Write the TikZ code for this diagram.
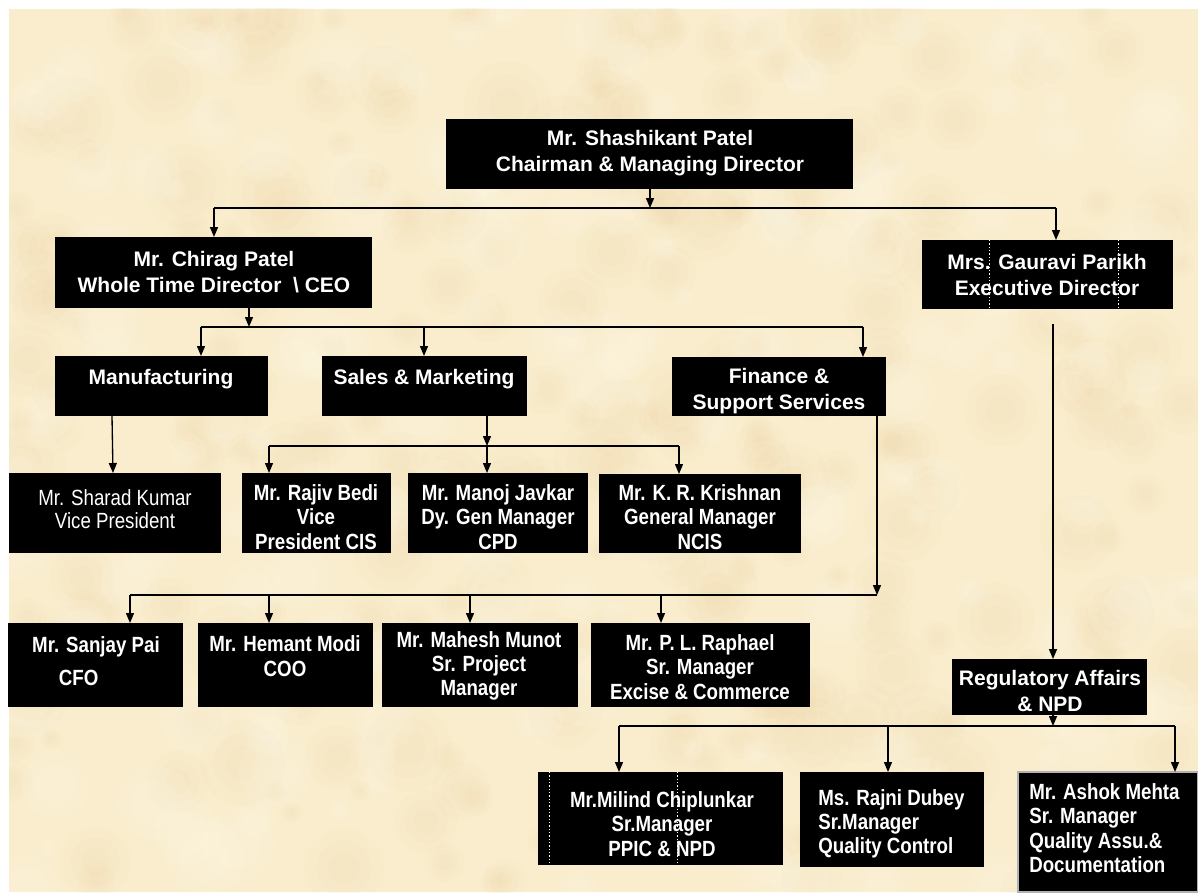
\documentclass[tikz,border=0pt]{standalone}
\usepackage{fontspec}
\setmainfont{Liberation Sans}
\newfontfamily\cndfamily[FakeStretch=0.85]{Liberation Sans}
\usetikzlibrary{arrows.meta,fit}

\definecolor{parchment}{RGB}{250,237,205}
\definecolor{parchdark}{RGB}{232,208,158}
\definecolor{parchlight}{RGB}{255,250,235}

\newcommand\hdfont{\fontsize{15.75pt}{19.5pt}\selectfont\bfseries}
\newcommand\sbfont{\cndfamily\fontsize{16.5pt}{18.2pt}\selectfont\bfseries}
\newcommand\srfont{\cndfamily\fontsize{16.5pt}{17pt}\selectfont}

\tikzset{
  box/.style={fill=black, draw=none, inner sep=0pt, outer sep=0pt},
  ln/.style={line width=1pt, draw=black},
  arr/.style={ln, -{Triangle[length=7.5pt,width=6pt]}},
  hd/.style={text=white, align=center, font=\hdfont, inner sep=0pt},
  sb/.style={text=white, align=center, font=\sbfont, inner sep=0pt},
  sr/.style={text=white, align=center, font=\srfont, inner sep=0pt},
  seam/.style={draw=white, line width=0.4pt, dash pattern=on 1pt off 1.5pt},
}

\begin{document}
\begin{tikzpicture}[x=0.75pt,y=-0.75pt]
\useasboundingbox (0,0) rectangle (1198,892);

% paper with soft mottling
\fill[white] (0,0) rectangle (1198,892);
\fill[parchment] (9,9) rectangle (1198,892);
\begin{scope}
  \clip (9,9) rectangle (1198,892);
  \pgfmathsetseed{11}
  \foreach \i in {1,...,260}{
    \pgfmathsetmacro\px{9+rnd*1189}
    \pgfmathsetmacro\py{9+rnd*883}
    \pgfmathsetmacro\pr{10+rnd*34}
    \fill[parchdark, opacity=0.06] (\px,\py) circle[radius=\pr];
    \fill[parchdark, opacity=0.06] (\px,\py) circle[radius=0.7*\pr];
    \fill[parchdark, opacity=0.06] (\px,\py) circle[radius=0.4*\pr];
  }
  \foreach \i in {1,...,200}{
    \pgfmathsetmacro\px{9+rnd*1189}
    \pgfmathsetmacro\py{9+rnd*883}
    \pgfmathsetmacro\pr{10+rnd*30}
    \fill[parchlight, opacity=0.12] (\px,\py) circle[radius=\pr];
    \fill[parchlight, opacity=0.12] (\px,\py) circle[radius=0.65*\pr];
  }
\end{scope}

% boxes
\node[box, fit={(446,119) (853,189)}] (chair) {};
\node[box, fit={(55,237) (372,308)}] (chirag) {};
\node[box, fit={(922,240) (1173,309)}] (gauravi) {};
\node[box, fit={(55,356) (268,416)}] (mfg) {};
\node[box, fit={(322,356) (527,416)}] (sales) {};
\node[box, fit={(672,357) (886,416)}] (fin) {};
\node[box, fit={(9,473) (221,553)}] (sharad) {};
\node[box, fit={(242,473) (391,553)}] (rajiv) {};
\node[box, fit={(408,473) (588,553)}] (manoj) {};
\node[box, fit={(599,474) (801,553)}] (krishnan) {};
\node[box, fit={(8,623) (183,707)}] (sanjay) {};
\node[box, fit={(198,623) (373,707)}] (hemant) {};
\node[box, fit={(382,623) (578,707)}] (mahesh) {};
\node[box, fit={(591,623) (810,707)}] (raphael) {};
\node[box, fit={(952,659) (1147,715)}] (ra) {};
\node[box, fit={(538,772) (783,865)}] (milind) {};
\node[box, fit={(800,772) (984,867)}] (rajni) {};
\node[box, draw=gray!60, line width=1pt, fit={(1018,772) (1198,892)}] (ashok) {};

% faint seams inside two boxes
\draw[seam] (989,240) -- (989,309);
\draw[seam] (1118,240) -- (1118,309);
\draw[seam] (549,772) -- (549,865);
\draw[seam] (677,772) -- (677,865);

% labels
\node[hd] (chair-t) at (650,153) {Mr. Shashikant Patel\\Chairman \& Managing Director};
\node[hd] (chirag-t) at (214,272) {Mr. Chirag Patel\\Whole Time Director\ \ \textbackslash\ CEO};
\node[hd] (gauravi-t) at (1047,275) {Mrs. Gauravi Parikh\\Executive Director};
\node[hd] (mfg-t) at (161,379) {Manufacturing};
\node[hd] (sales-t) at (424,379) {Sales \& Marketing};
\node[hd] (fin-t) at (779,391) {Finance \&\\Support Services};
\node[hd] (ra-t) at (1050,691) {Regulatory Affairs\\\& NPD};

\node[sr] (sharad-t) at (115,509) {Mr. Sharad Kumar\\Vice President};
\node[sb] (rajiv-t) at (316,517) {Mr. Rajiv Bedi\\Vice\\President CIS};
\node[sb] (manoj-t) at (498,517) {Mr. Manoj Javkar\\Dy. Gen Manager\\CPD};
\node[sb] (krishnan-t) at (700,517) {Mr. K. R. Krishnan\\General Manager\\NCIS};

\node[sb, align=left] (sanjay-t) at (96,661) {Mr. Sanjay Pai\\[7pt]\hspace*{20pt}CFO};
\node[sb] (hemant-t) at (285,656) {Mr. Hemant Modi\\COO};
\node[sb] (mahesh-t) at (479,666) {Mr. Mahesh Munot\\Sr. Project\\Manager};
\node[sb] (raphael-t) at (700,667) {Mr. P. L. Raphael\\Sr. Manager\\Excise \& Commerce};

\node[sb] (milind-t) at (662,824) {Mr.Milind Chiplunkar\\Sr.Manager\\PPIC \& NPD};
\node[sb, align=left, anchor=west] (rajni-t) at (818,824) {Ms. Rajni Dubey\\Sr.Manager\\Quality Control};
\node[sb, align=left, anchor=west] (ashok-t) at (1029,828) {Mr. Ashok Mehta\\Sr. Manager\\Quality Assu.\&\\Documentation};

% chairman level
\coordinate (b0) at (650,208);
\coordinate (b0l) at (214,208);
\coordinate (b0r) at (1056,208);
\draw[arr] (b0 |- chair.south) -- (b0);
\draw[ln] (b0l) -- (b0r);
\draw[arr] (b0l) -- (b0l |- chirag.north);
\draw[arr] (b0r) -- (b0r |- gauravi.north);

% CEO level
\coordinate (c0) at (249,327);
\coordinate (c0l) at (201,327);
\coordinate (c0m) at (424,327);
\coordinate (c0r) at (863,327);
\draw[arr] (c0 |- chirag.south) -- (c0);
\draw[ln] (c0l) -- (c0r);
\draw[arr] (c0l) -- (c0l |- mfg.north);
\draw[arr] (c0m) -- (c0m |- sales.north);
\draw[arr] (c0r) -- (c0r |- fin.north);

% manufacturing
\coordinate (m0) at (112,416);
\coordinate (m1) at (113,473);
\draw[arr] (m0 |- mfg.south) -- (m1 |- sharad.north);

% sales
\coordinate (s0) at (487,446);
\coordinate (s0l) at (269,446);
\coordinate (s0r) at (679,446);
\draw[arr] (s0 |- sales.south) -- (s0);
\draw[ln] (s0l) -- (s0r);
\draw[arr] (s0l) -- (s0l |- rajiv.north);
\draw[arr] (s0) -- (s0 |- manoj.north);
\draw[arr] (s0r) -- (s0r |- krishnan.north);

% finance
\coordinate (f0) at (877,595);
\coordinate (f0a) at (130,595);
\coordinate (f0b) at (269,595);
\coordinate (f0c) at (470,595);
\coordinate (f0d) at (661,595);
\draw[arr] (f0 |- fin.south) -- (f0);
\draw[ln] (f0a) -- (f0);
\draw[arr] (f0a) -- (f0a |- sanjay.north);
\draw[arr] (f0b) -- (f0b |- hemant.north);
\draw[arr] (f0c) -- (f0c |- mahesh.north);
\draw[arr] (f0d) -- (f0d |- raphael.north);

% executive director
\coordinate (g0) at (1053,324);
\draw[arr] (g0) -- (g0 |- ra.north);

% regulatory affairs
\coordinate (r0) at (1053,726);
\coordinate (r0l) at (619,726);
\coordinate (r0m) at (888,726);
\coordinate (r0r) at (1175,726);
\draw[arr] (r0 |- ra.south) -- (r0);
\draw[ln] (r0l) -- (r0r);
\draw[arr] (r0l) -- (r0l |- milind.north);
\draw[arr] (r0m) -- (r0m |- rajni.north);
\draw[arr] (r0r) -- (r0r |- ashok.north);
\end{tikzpicture}
\end{document}
